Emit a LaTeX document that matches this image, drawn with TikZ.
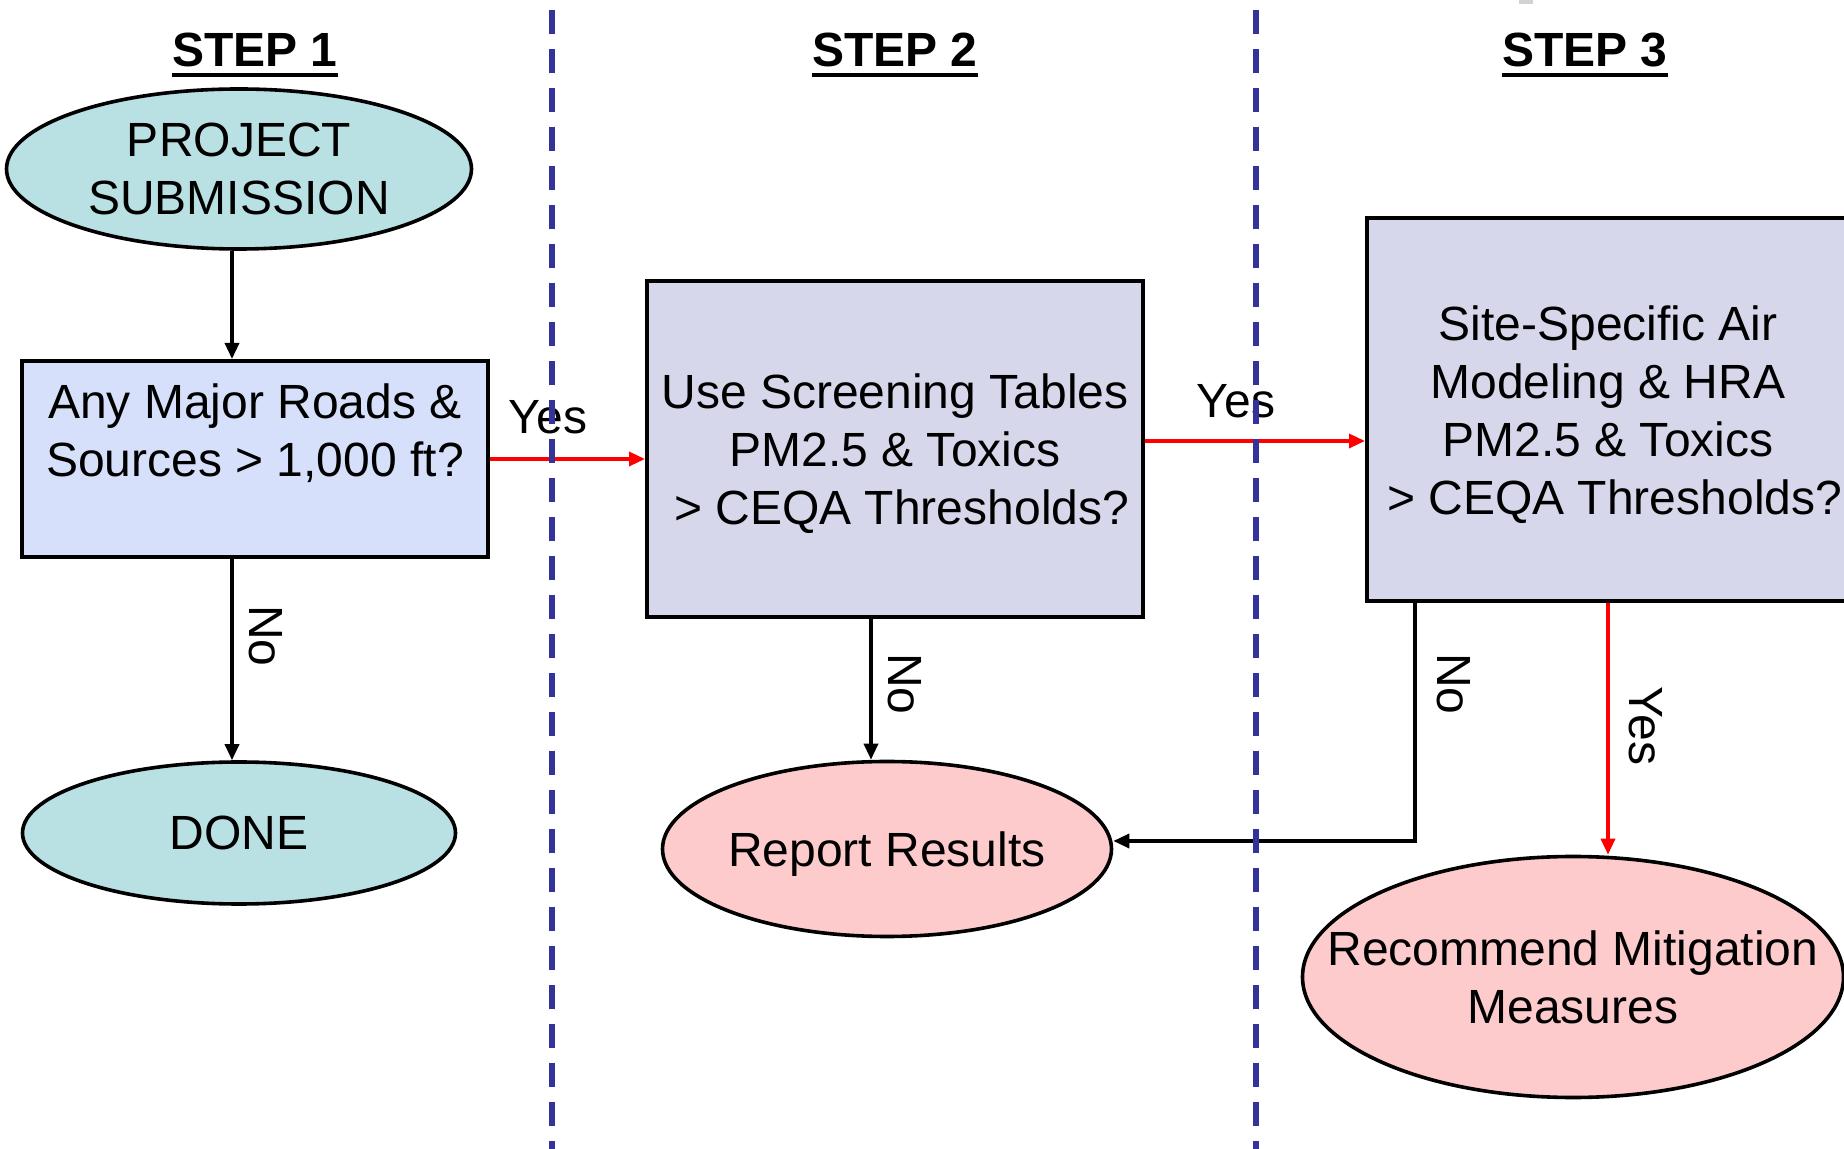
\documentclass[tikz,border=0pt]{standalone}
\usepackage{fontspec}
\setmainfont{Liberation Sans}
\usetikzlibrary{arrows.meta,shapes.geometric}
\definecolor{startcol}{RGB}{185,224,227}
\definecolor{askcol}{RGB}{214,224,250}
\definecolor{testcol}{RGB}{214,215,234}
\definecolor{endcol}{RGB}{254,203,204}
\definecolor{divcol}{RGB}{51,51,153}
\newcommand{\dropline}{\rule{0pt}{22.5pt}}
\tikzstyle{every node}=[font=\fontsize{24pt}{29pt}\selectfont]
\tikzstyle{terminal}=[ellipse,draw,line width=1.8pt,inner sep=0pt,align=center]
\tikzstyle{question}=[rectangle,draw,line width=2pt,inner sep=0pt,align=center]
\tikzstyle{flow}=[draw,line width=1.7pt,-{Triangle[length=8pt,width=7pt]}]
\tikzstyle{yesflow}=[flow,red]
\tikzstyle{divider}=[draw=divcol,line width=2.8pt,dash pattern=on 12pt off 7.5pt]
\tikzstyle{answer}=[inner sep=0pt]
\tikzstyle{heading}=[inner sep=0pt,anchor=base,font=\fontsize{24pt}{29pt}\selectfont\bfseries]

\begin{document}
\begin{tikzpicture}[x=0.5pt,y=-0.5pt]
  \useasboundingbox (0,0) rectangle (1844,1149);
  \fill[gray!35] (1519,0) rectangle (1533,4);

  % column headings
  \node[heading] (step1) at (255,66.5) {STEP 1};
  \node[heading] (step2) at (895,66.5) {STEP 2};
  \node[heading] (step3) at (1585,66.5) {STEP 3};
  \foreach \s in {step1,step2,step3}
    \draw[line width=2pt] ([yshift=-4.3pt]\s.base west) -- ([yshift=-4.3pt]\s.base east);

  % step 1
  \node[terminal,fill=startcol,minimum width=232.5pt,minimum height=80pt] (sub) at (239,169) {PROJECT\\SUBMISSION};
  \node[question,fill=askcol,minimum width=233pt,minimum height=98pt] (box1) at (255,459) {Any Major Roads \&\\Sources > 1,000 ft?\\\mbox{}};
  \node[terminal,fill=startcol,minimum width=216.5pt,minimum height=71pt] (done) at (239,833) {DONE};

  % step 2
  \node[question,fill=testcol,minimum width=248pt,minimum height=168pt] (box2) at (895,449) {\dropline Use Screening Tables\\PM2.5 \& Toxics\\~> CEQA Thresholds?};
  \node[terminal,fill=endcol,minimum width=224.5pt,minimum height=87.5pt,text depth=0pt] (report) at (887,849) {Report Results};

  % step 3
  \node[question,fill=testcol,minimum width=241pt,minimum height=191.5pt] (box3) at (1608,409.5) {\dropline Site-Specific Air\\Modeling \& HRA\\PM2.5 \& Toxics\\~> CEQA Thresholds?};
  \node[terminal,fill=endcol,minimum width=270.5pt,minimum height=120.5pt,inner xsep=-30pt] (rec) at (1573,977) {Recommend Mitigation\\Measures};

  \coordinate (lane1) at (232,0);
  \coordinate (lane2) at (871,0);
  \coordinate (lane3) at (1415,0);

  \draw[flow] (sub.south -| lane1) -- (box1.north -| lane1);
  \draw[flow] (box1.south -| lane1) -- (done.north -| lane1);
  \draw[yesflow] (box1.east) -- (box1.east -| box2.west);
  \draw[yesflow] ([yshift=4pt]box2.east) -- ([yshift=4pt]box2.east -| box3.west);
  \draw[flow] (box2.south -| lane2) -- (report.north -| lane2);
  \draw[flow] (box3.south -| lane3) |- ([yshift=4pt]report.east);
  \draw[yesflow] (box3.south) -- (box3.south |- rec.north);

  % answers
  \node[answer] (yes1) at (548,417) {Yes};
  \node[answer] (yes2) at (1236,401) {Yes};
  \node[answer,rotate=-90] (no1) at (266,636) {No};
  \node[answer,rotate=-90] (no2) at (905,684) {No};
  \node[answer,rotate=-90] (no3) at (1454,684) {No};
  \node[answer,rotate=-90] (yes3) at (1646,726) {Yes};

  % lane dividers
  \draw[divider] (552,10) -- (552,1149);
  \draw[divider] (1256,10) -- (1256,1149);
\end{tikzpicture}
\end{document}
